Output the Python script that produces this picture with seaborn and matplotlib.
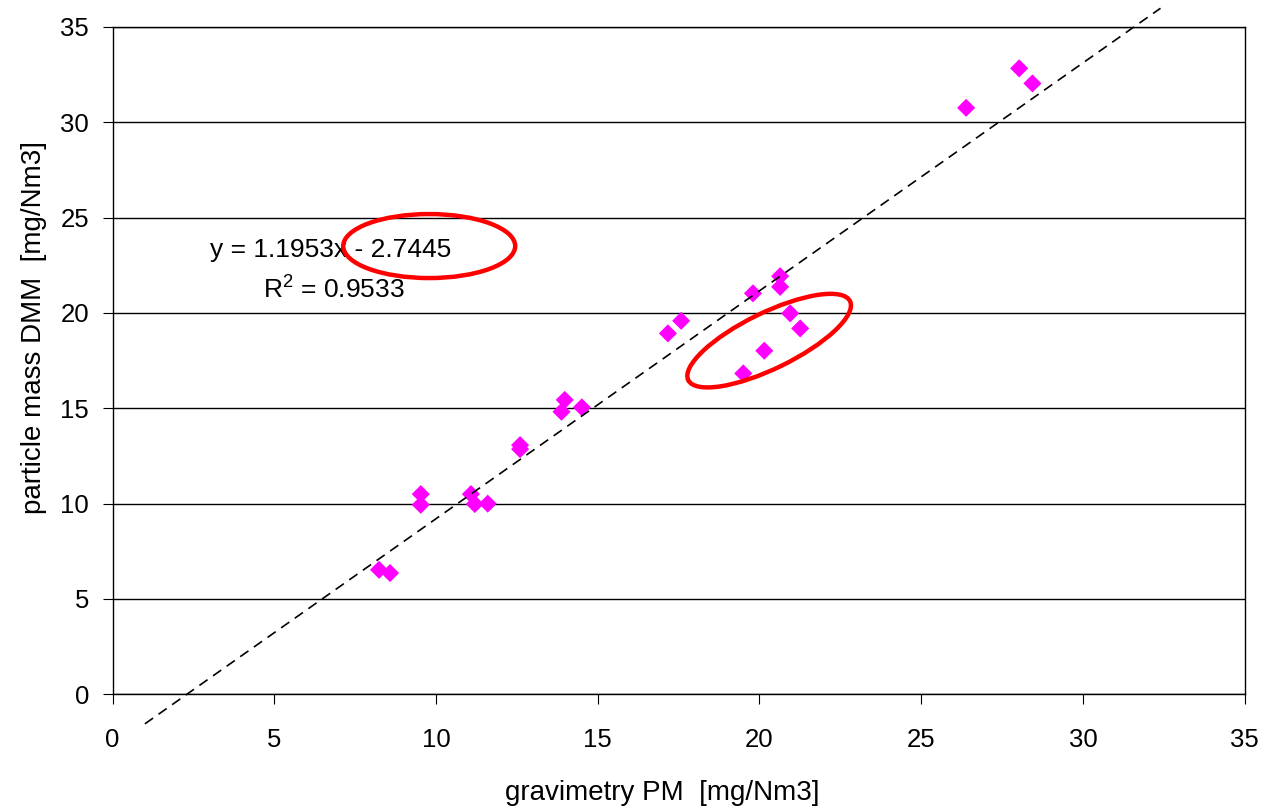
import numpy as np
import pandas as pd
import seaborn as sns
import matplotlib.pyplot as plt
from matplotlib.patches import Ellipse
from matplotlib.transforms import ScaledTranslation

gravimetry_pm = [8.24, 8.58, 9.53, 9.53, 11.08, 11.2, 11.6, 12.6, 12.6,
                 13.98, 13.88, 14.51, 17.17, 17.58, 19.8, 20.64, 20.64,
                 20.95, 21.26, 20.15, 19.5, 26.39, 28.03, 28.44]
dmm_mass = [6.53, 6.36, 10.5, 9.94, 10.5, 9.98, 10.0, 13.07, 12.86,
            15.44, 14.82, 15.05, 18.93, 19.59, 21.03, 21.93, 21.37,
            19.98, 19.19, 18.02, 16.83, 30.76, 32.83, 32.04]

# linear trendline as printed on the chart
SLOPE = 1.1953
INTERCEPT = -2.7445
R_SQUARED = 0.9533
trend_x = np.array([1.0, 32.4])

axis_ticks = [0, 5, 10, 15, 20, 25, 30, 35]

df = pd.DataFrame({"gravimetry": gravimetry_pm, "dmm": dmm_mass})

sns.set_style("ticks")
plt.rcParams["font.family"] = ["Liberation Sans", "DejaVu Sans"]
plt.rcParams["mathtext.fontset"] = "custom"
plt.rcParams["mathtext.rm"] = "Liberation Sans"
plt.rcParams["text.color"] = "black"
plt.rcParams["axes.labelcolor"] = "black"

fig = plt.figure(figsize=(12.66, 8.08), dpi=100)
ax = fig.add_axes([0.0889, 0.1407, 0.8942, 0.8259])

sns.scatterplot(data=df, x="gravimetry", y="dmm", marker="D", s=85,
                color="#FF00FF", edgecolor="none", ax=ax, zorder=3)

# trendline runs past the plot area, like the Excel one
ax.plot(trend_x, SLOPE * trend_x + INTERCEPT, color="black", lw=1.2,
        ls=(0, (6, 4)), clip_on=False, zorder=4)

ax.set_xlim(0, 35)
ax.set_ylim(0, 35)
ax.set_xticks(axis_ticks)
ax.set_yticks(axis_ticks)
ax.yaxis.grid(True, color="black", lw=1.0)
ax.xaxis.grid(False)
ax.set_axisbelow(True)

for side in ["left", "bottom", "right", "top"]:
    ax.spines[side].set_visible(True)
    ax.spines[side].set_color("black")
    ax.spines[side].set_linewidth(1.0)

ax.tick_params(axis="both", direction="out", length=7, width=0.8,
               labelsize=18.5, colors="black")
ax.tick_params(axis="y", pad=10)
ax.tick_params(axis="x", pad=17)

ax.set_xlabel("gravimetry PM  [mg/Nm3]", fontsize=20)
ax.set_ylabel("particle mass DMM  [mg/Nm3]", fontsize=20)
ax.xaxis.set_label_coords(0.4854, -0.128)
ax.yaxis.set_label_coords(-0.058, 0.549)

# equation label
ax.text(6.73, 22.93, "y = 1.1953x - 2.7445", fontsize=19,
        ha="center", va="baseline")
ax.text(6.85, 20.73, r"$\mathregular{R^2}$ = " + f"{R_SQUARED:.4f}",
        fontsize=19, ha="center", va="baseline")


# red hand-drawn style rings, sized in inches around a data point
def ring(x, y, w, h, angle):
    trans = fig.dpi_scale_trans + ScaledTranslation(x, y, ax.transData)
    ax.add_patch(Ellipse((0, 0), w, h, angle=angle, transform=trans,
                         fill=False, edgecolor="#FF0000", lw=3.2, zorder=5))


ring(9.79, 23.51, 1.72, 0.64, 0)
ring(20.3, 18.55, 1.80, 0.56, 26)

fig.savefig("out.png", dpi=100)
